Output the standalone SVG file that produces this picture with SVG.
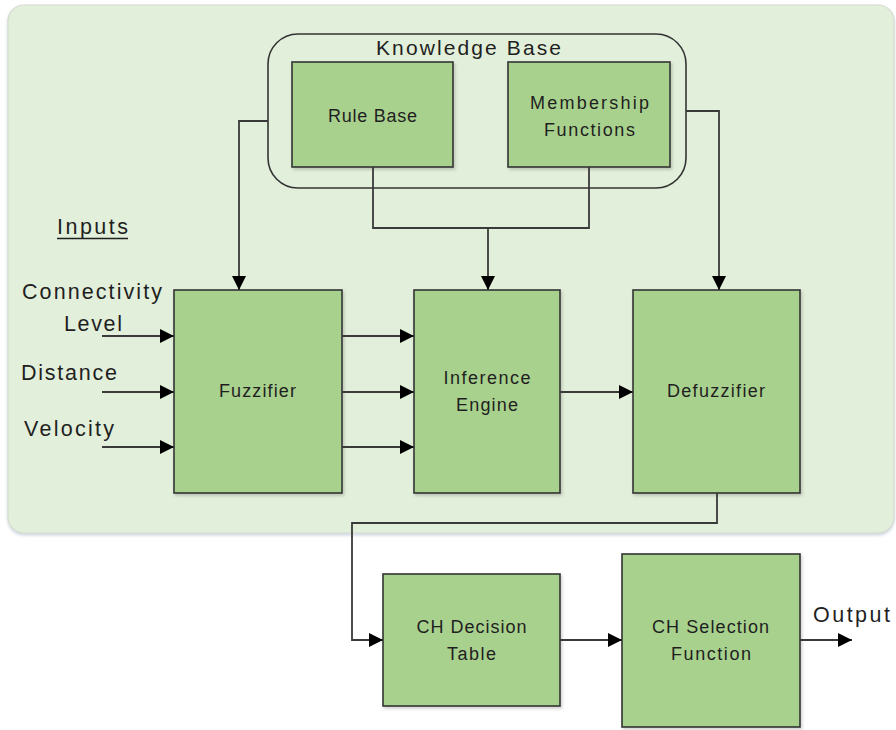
<svg xmlns="http://www.w3.org/2000/svg" width="896" height="730" viewBox="0 0 896 730">
<style>
.box{fill:#a9d18e;stroke:#333;stroke-width:1.6;filter:url(#sh)}
.t{font-family:"Liberation Sans",Arial,sans-serif;fill:#1f1f1f;text-anchor:middle}
.s{font-size:18px}
.l{font-size:21.5px}
.c{fill:none;stroke:#3a3a3a;stroke-width:1.8}
.a{marker-end:url(#ah)}
</style>
<defs>
<marker id="ah" markerUnits="userSpaceOnUse" markerWidth="15" markerHeight="15" refX="14" refY="7.5" orient="auto">
<path d="M0,0.5 L14,7.5 L0,14.5 z" fill="#000"/>
</marker>
<filter id="sh" x="-10%" y="-10%" width="130%" height="130%">
<feDropShadow dx="1.5" dy="2" stdDeviation="1.5" flood-color="#000" flood-opacity="0.18"/>
</filter>
<filter id="psh" x="-5%" y="-5%" width="110%" height="110%">
<feDropShadow dx="0" dy="2" stdDeviation="1.5" flood-color="#9fb0c8" flood-opacity="0.5"/>
</filter>
</defs>
<rect width="896" height="730" fill="#fff"/>
<g id="panel">
<rect x="8" y="5" width="886" height="528" rx="16" fill="#e2efda" stroke="#d6dccf" stroke-width="1.2" filter="url(#psh)"/>
</g>
<g id="knowledge-base">
<rect x="268" y="34" width="418" height="154" rx="30" fill="none" stroke="#333" stroke-width="1.6"/>
<text class="t" style="font-size:21px" x="468.5" y="55" textLength="185" lengthAdjust="spacing">Knowledge Base</text>
</g>
<g id="rule-base">
<rect class="box" x="292" y="62" width="161" height="105"/>
<text class="t s" x="372.5" y="122" textLength="89" lengthAdjust="spacing">Rule Base</text>
</g>
<g id="membership-functions">
<rect class="box" x="508" y="62" width="162" height="105"/>
<text class="t s" x="589.5" y="109" textLength="119" lengthAdjust="spacing">Membership</text>
<text class="t s" x="589.5" y="136" textLength="91" lengthAdjust="spacing">Functions</text>
</g>
<g id="inputs">
<text class="t l" x="92.5" y="234" textLength="71" lengthAdjust="spacing">Inputs</text>
<line x1="57" y1="238.5" x2="128" y2="238.5" stroke="#1f1f1f" stroke-width="1.5"/>
<text class="t l" x="92" y="299" textLength="140" lengthAdjust="spacing">Connectivity</text>
<text class="t l" x="93" y="331" textLength="58" lengthAdjust="spacing">Level</text>
<text class="t l" x="69" y="380" textLength="96" lengthAdjust="spacing">Distance</text>
<text class="t l" x="69" y="436" textLength="90" lengthAdjust="spacing">Velocity</text>
</g>
<g id="fuzzifier">
<rect class="box" x="174" y="290" width="168" height="203"/>
<text class="t s" x="257.5" y="397" textLength="77" lengthAdjust="spacing">Fuzzifier</text>
</g>
<g id="inference-engine">
<rect class="box" x="414" y="290" width="146" height="203"/>
<text class="t s" x="487" y="384" textLength="87" lengthAdjust="spacing">Inference</text>
<text class="t s" x="487" y="411" textLength="62" lengthAdjust="spacing">Engine</text>
</g>
<g id="defuzzifier">
<rect class="box" x="633" y="290" width="167" height="203"/>
<text class="t s" x="716" y="397" textLength="98" lengthAdjust="spacing">Defuzzifier</text>
</g>
<g id="ch-decision-table">
<rect class="box" x="383" y="574" width="177" height="132"/>
<text class="t s" x="471.5" y="633" textLength="110" lengthAdjust="spacing">CH Decision</text>
<text class="t s" x="471.5" y="660" textLength="49" lengthAdjust="spacing">Table</text>
</g>
<g id="ch-selection-function">
<rect class="box" x="622" y="554" width="178" height="173"/>
<text class="t s" x="710.5" y="633" textLength="117" lengthAdjust="spacing">CH Selection</text>
<text class="t s" x="711" y="660" textLength="80" lengthAdjust="spacing">Function</text>
</g>
<g id="output">
<text class="t l" x="851.5" y="622" textLength="77" lengthAdjust="spacing">Output</text>
</g>
<g id="connectors">
<path class="c a" d="M268,121 H239 V290"/>
<path class="c" d="M373,167 V228 H589 V167"/>
<path class="c a" d="M488,228 V290"/>
<path class="c a" d="M686,111 H719 V290"/>
<path class="c a" d="M102,336 H174"/>
<path class="c a" d="M102,392 H174"/>
<path class="c a" d="M102,447 H174"/>
<path class="c a" d="M342,336 H414"/>
<path class="c a" d="M342,392 H414"/>
<path class="c a" d="M342,447 H414"/>
<path class="c a" d="M560,392 H633"/>
<path class="c a" d="M717,493 V523 H352 V640 H383"/>
<path class="c a" d="M560,640 H622"/>
<path class="c a" d="M800,640 H852"/>
</g>
</svg>
